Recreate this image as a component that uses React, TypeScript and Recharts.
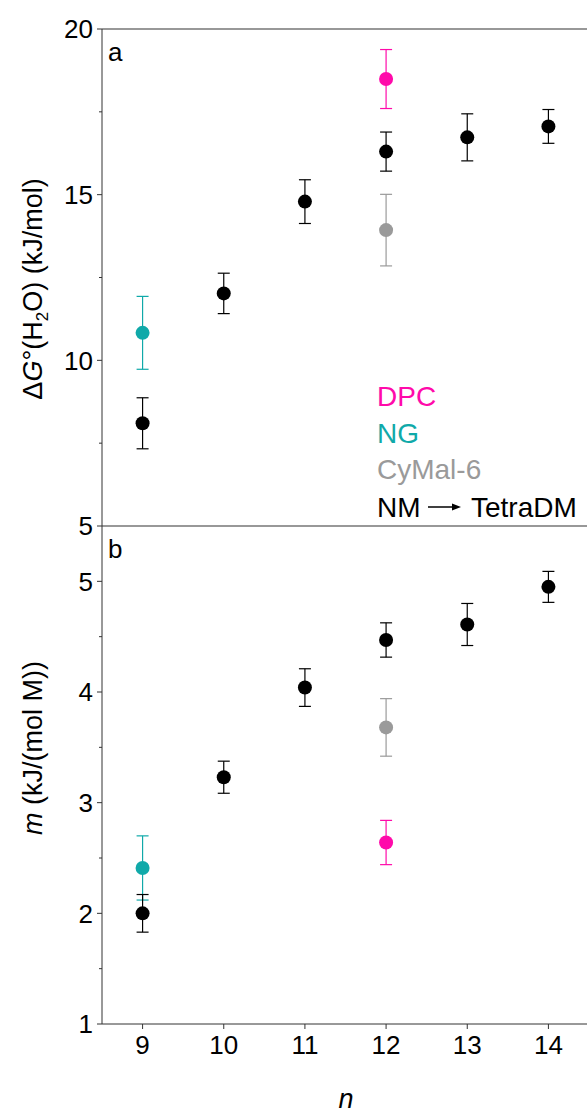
import { ErrorBar, ReferenceLine, Scatter, ScatterChart, XAxis, YAxis } from "recharts";

const FONT = '"Liberation Sans", Arial, Helvetica, sans-serif';
const AXIS = "#333";
const PINK = "#ff0aaa";
const TEAL = "#10a9a9";
const GRAY = "#9a9a9a";
const BLACK = "#000";

// alkyl chain length n
const nNM = [9, 10, 11, 12, 13, 14];
const nDPC = [12];
const nNG = [9];
const nCyMal = [12];

// panel a: ΔG°(H2O), kJ/mol
const dgNM = [8.1, 12.02, 14.79, 16.3, 16.73, 17.06];
const dgNMErr = [0.77, 0.61, 0.66, 0.59, 0.71, 0.51];
const dgDPC = [18.49];
const dgDPCErr = [0.89];
const dgNG = [10.83];
const dgNGErr = [1.1];
const dgCyMal = [13.93];
const dgCyMalErr = [1.08];

// panel b: m, kJ/(mol M)
const mNM = [2.0, 3.23, 4.04, 4.47, 4.61, 4.95];
const mNMErr = [0.17, 0.145, 0.17, 0.155, 0.19, 0.14];
const mDPC = [2.64];
const mDPCErr = [0.2];
const mNG = [2.41];
const mNGErr = [0.29];
const mCyMal = [3.68];
const mCyMalErr = [0.26];

const xTicks = [9, 10, 11, 12, 13, 14];
const dgTicks = [5, 7.5, 10, 12.5, 15, 17.5, 20];
const mTicks = [1, 1.5, 2, 2.5, 3, 3.5, 4, 4.5, 5];

const rows = (xs: number[], ys: number[], es: number[]) =>
  xs.map((x, i) => ({ x, y: ys[i], err: es[i] }));

const AXIS_X = 102;

const dot = (color: string) => (p: any) => <circle cx={p.cx} cy={p.cy} r={7} fill={color} />;

const yTick = (p: any) => {
  const v = p.payload.value;
  const major = Number.isInteger(v / 5) || (Number.isInteger(v) && v < 6);
  return (
    <g>
      <line x1={AXIS_X - (major ? 5 : 3)} x2={AXIS_X} y1={p.y} y2={p.y} stroke={AXIS} strokeWidth={1} />
      {major && (
        <text x={AXIS_X - 9} y={p.y} dy="0.355em" textAnchor="end" fontSize={26} fontFamily={FONT} fill="#000">
          {v}
        </text>
      )}
    </g>
  );
};

const series = (
  data: { x: number; y: number; err: number }[],
  color: string,
  key: string
) => (
  <Scatter key={key} data={data} dataKey="y" shape={dot(color)} isAnimationActive={false}>
    <ErrorBar dataKey="err" direction="y" width={6} stroke={color} strokeWidth={1.2} />
  </Scatter>
);

export default function App() {
  const W = 589;
  return (
    <div style={{ position: "absolute", left: 0, top: 0, width: 587, height: 1113, overflow: "hidden", background: "#fff" }}>
      <div style={{ position: "absolute", left: 0, top: 500 }}>
        <ScatterChart width={W} height={613} margin={{ top: 26, right: 0, bottom: 0, left: 0 }}>
          <XAxis
            type="number"
            dataKey="x"
            domain={[8.5, 14.5]}
            ticks={xTicks}
            interval={0}
            height={89}
            tickSize={5}
            tickMargin={7}
            stroke={AXIS}
            tick={{ fontSize: 26, fontFamily: FONT, fill: "#000" }}
            label={{
              content: () => (
                <text x={346} y={608} textAnchor="middle" fontSize={27} fontStyle="italic" fontFamily={FONT} fill="#000">
                  n
                </text>
              ),
            }}
          />
          <YAxis
            type="number"
            dataKey="y"
            width={AXIS_X}
            domain={[1, 5.5]}
            ticks={mTicks}
            interval={0}
            tick={yTick}
            tickLine={false}
            stroke={AXIS}
            label={{
              content: () => (
                <text
                  transform="translate(42,248) rotate(-90)"
                  textAnchor="middle"
                  fontSize={27}
                  fontFamily={FONT}
                  fill="#000"
                >
                  <tspan fontStyle="italic">m</tspan> (kJ/(mol M))
                </text>
              ),
            }}
          />
          {series(rows(nNG, mNG, mNGErr), TEAL, "ng")}
          {series(rows(nCyMal, mCyMal, mCyMalErr), GRAY, "cymal")}
          {series(rows(nDPC, mDPC, mDPCErr), PINK, "dpc")}
          {series(rows(nNM, mNM, mNMErr), BLACK, "nm")}
        </ScatterChart>
      </div>

      <div style={{ position: "absolute", left: 0, top: 0 }}>
        <ScatterChart width={W} height={546} margin={{ top: 29, right: 0, bottom: 20, left: 0 }}>
          <XAxis type="number" dataKey="x" domain={[8.5, 14.5]} ticks={xTicks} hide />
          <YAxis
            type="number"
            dataKey="y"
            width={AXIS_X}
            domain={[5, 20]}
            ticks={dgTicks}
            interval={0}
            tick={yTick}
            tickLine={false}
            stroke={AXIS}
            label={{
              content: () => (
                <text
                  transform="translate(42,289) rotate(-90)"
                  textAnchor="middle"
                  fontSize={27}
                  fontFamily={FONT}
                  fill="#000"
                >
                  Δ<tspan fontStyle="italic">G</tspan>°(H
                  <tspan fontSize={17} dy={6}>2</tspan>
                  <tspan dy={-6}>O) (kJ/mol)</tspan>
                </text>
              ),
            }}
          />
          <ReferenceLine y={20} stroke={AXIS} strokeWidth={1.2} />
          <ReferenceLine y={5} stroke={AXIS} strokeWidth={1.2} />
          {series(rows(nNG, dgNG, dgNGErr), TEAL, "ng")}
          {series(rows(nCyMal, dgCyMal, dgCyMalErr), GRAY, "cymal")}
          {series(rows(nDPC, dgDPC, dgDPCErr), PINK, "dpc")}
          {series(rows(nNM, dgNM, dgNMErr), BLACK, "nm")}
        </ScatterChart>
      </div>

      <svg width={587} height={1113} style={{ position: "absolute", left: 0, top: 0, pointerEvents: "none" }}>
        <g fontFamily={FONT} fontSize={26} fill="#000">
          <text x={108} y={61}>a</text>
          <text x={108} y={558}>b</text>
        </g>
        <g fontFamily={FONT} fontSize={28}>
          <text x={377} y={406} fill={PINK}>DPC</text>
          <text x={377} y={443} fill={TEAL}>NG</text>
          <text x={377} y={479} fill={GRAY}>CyMal-6</text>
          <text x={377} y={517} fill="#000">NM</text>
          <text x={471} y={517} fill="#000">TetraDM</text>
        </g>
        <line x1={428} x2={454} y1={507} y2={507} stroke="#000" strokeWidth={1.5} />
        <polygon points="461,507 452,503.5 452,510.5" fill="#000" />
      </svg>
    </div>
  );
}
